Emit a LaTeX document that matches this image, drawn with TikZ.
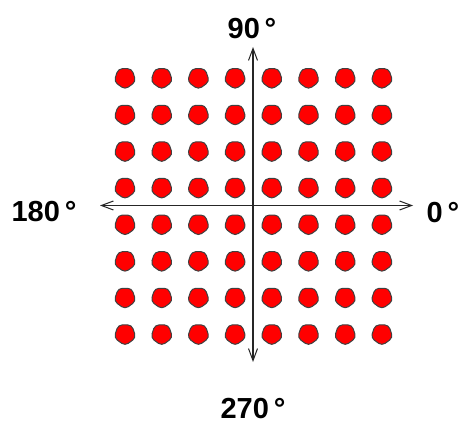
\documentclass[tikz,border=0pt]{standalone}
\usepackage{fontspec}
\setmainfont{Liberation Sans}
\usetikzlibrary{arrows.meta,shapes.geometric}

\tikzset{
  dot/.style={regular polygon, regular polygon sides=5, shape border rotate=180,
    minimum size=23pt, inner sep=0pt, fill=red, draw=black!75, line width=1pt, rounded corners=4pt},
  axis/.style={draw=black!85, line width=1.3pt, -{Straight Barb[length=12pt,width=9pt,line width=1pt]}},
  deg/.style={font=\fontsize{29}{29}\selectfont\bfseries, inner sep=0pt}
}

\begin{document}
\begin{tikzpicture}[x=1pt, y=-1pt]
	\useasboundingbox (0,0) rectangle (461,425);
	\foreach \i in {0,...,7} {\foreach \j in {0,...,7} {\node[dot] (d\i\j) at (125+36.7*\i, 78+36.6*\j) {};}}
	\coordinate (o) at (253,205.5);
	\coordinate (top) at (253,47);
	\coordinate (bot) at (253,362);
	\coordinate (lft) at (100,205.5);
	\coordinate (rgt) at (413,205.5);
	\draw[axis] (o) -- (top);
	\draw[axis] (o) -- (bot);
	\draw[axis] (o) -- (lft);
	\draw[axis] (o) -- (rgt);
	\node[deg] (n90) at (252,29) {90\,°};
	\node[deg] (n180) at (44,212) {180\,°};
	\node[deg] (n0) at (443,213) {0\,°};
	\node[deg] (n270) at (253,409) {270\,°};
\end{tikzpicture}
\end{document}
